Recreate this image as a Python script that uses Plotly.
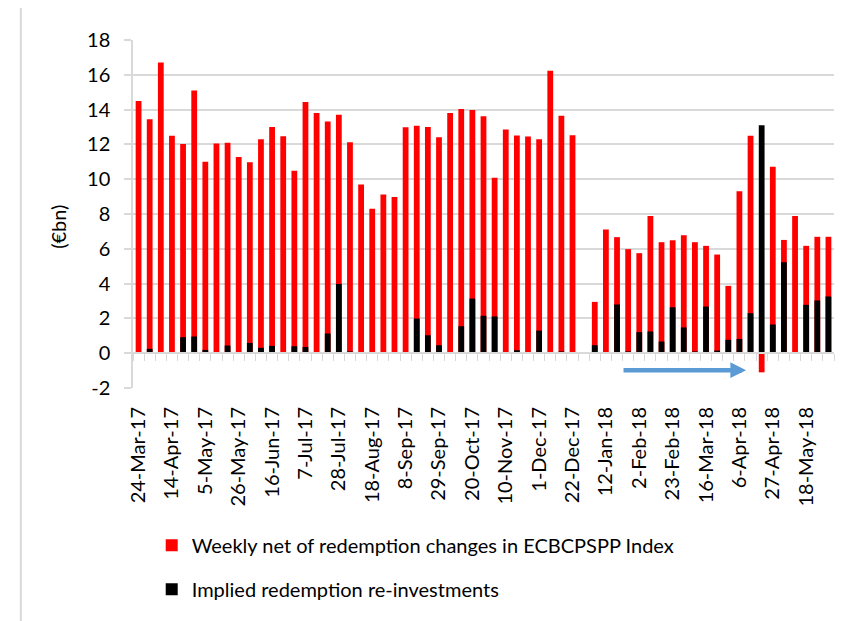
import plotly.graph_objects as go
import pandas as pd

# weekly dates (categories)
dates = pd.date_range("2017-03-24", periods=63, freq="7D")
categories = [d.strftime("%-d-%b-%y") for d in dates]

# Weekly net of redemption changes in ECBCPSPP Index (EUR bn)
weekly_net = [14.5, 13.45, 16.7, 12.49, 12.03, 15.1, 11.0, 12.05, 12.09, 11.28,
              10.98, 12.3, 13.0, 12.47, 10.48, 14.44, 13.81, 13.31, 13.7, 12.13,
              9.69, 8.3, 9.12, 8.98, 12.99, 13.07, 13.0, 12.41, 13.81, 14.04,
              13.97, 13.62, 10.08, 12.85, 12.51, 12.45, 12.3, 16.23, 13.64, 12.53,
              0.0, 2.95, 7.11, 6.67, 5.98, 5.75, 7.89, 6.38, 6.49, 6.78,
              6.38, 6.17, 5.67, 3.87, 9.31, 12.49, -1.1, 10.71, 6.51, 7.89,
              6.17, 6.69, 6.69]

# Implied redemption re-investments (EUR bn)
reinvest = [0, 0.25, 0, 0, 0.92, 0.96, 0.19, 0, 0.44, 0,
            0.59, 0.31, 0.42, 0, 0.40, 0.36, 0, 1.13, 3.98, 0.1,
            0, 0, 0, 0, 0, 1.99, 1.03, 0.46, 0, 1.55,
            3.14, 2.15, 2.11, 0, 0.17, 0, 1.30, 0, 0.1, 0,
            0, 0.46, 0, 2.80, 0.1, 1.21, 1.25, 0.67, 2.64, 1.48,
            0.1, 2.68, 0.15, 0.77, 0.82, 2.30, 13.1, 1.65, 5.23, 0,
            2.78, 3.03, 3.26]

tick_labels = ["24-Mar-17", "14-Apr-17", "5-May-17", "26-May-17", "16-Jun-17",
               "7-Jul-17", "28-Jul-17", "18-Aug-17", "8-Sep-17", "29-Sep-17",
               "20-Oct-17", "10-Nov-17", "1-Dec-17", "22-Dec-17", "12-Jan-18",
               "2-Feb-18", "23-Feb-18", "16-Mar-18", "6-Apr-18", "27-Apr-18",
               "18-May-18"]
tick_idx = [categories.index(t) for t in tick_labels]

y_ticks = list(range(-2, 19, 2))
y_tick_text = [str(v) for v in y_ticks]

x_pos = list(range(len(categories)))
FONT = "Lato, 'Open Sans', sans-serif"
FS = 20
GRID = "#d9d9d9"

fig = go.Figure()
fig.add_trace(go.Bar(x=x_pos, y=weekly_net, name="Weekly net of redemption changes in ECBCPSPP Index",
                     marker=dict(color="#ff0000", line=dict(width=0)), width=0.52,
                     legendgroup="a", hovertext=categories))
fig.add_trace(go.Bar(x=x_pos, y=reinvest, name="Implied redemption re-investments",
                     marker=dict(color="#000000", line=dict(width=0)), width=0.52,
                     legendgroup="b", hovertext=categories))

# invisible trace to host the zero-line axis with category-boundary ticks
fig.add_trace(go.Scatter(x=[-0.5, len(categories) - 0.5], y=[0, 0], xaxis="x2",
                         mode="lines", line=dict(width=0), showlegend=False, hoverinfo="skip"))

fig.update_layout(
    width=859, height=613,
    barmode="overlay",
    paper_bgcolor="white", plot_bgcolor="white",
    margin=dict(l=125, r=33, t=32, b=233, autoexpand=False),
    font=dict(family=FONT, size=FS, color="#000000"),
    xaxis=dict(range=[-0.5, len(categories) - 0.5], tickmode="array",
               tickvals=tick_idx, ticktext=tick_labels, tickangle=-90,
               showgrid=False, showline=False, zeroline=False, ticks="",
               ticklabelstandoff=14, tickfont=dict(size=FS), automargin=False),
    xaxis2=dict(overlaying="x", matches="x", anchor="free", position=0.1,
                showline=True, linecolor=GRID, linewidth=1.5, ticks="outside",
                ticklen=7, tickwidth=1.2, tickcolor=GRID, tickmode="array",
                tickvals=[i - 0.5 for i in range(len(categories) + 1)],
                showticklabels=False, showgrid=False, zeroline=False, automargin=False),
    yaxis=dict(range=[-2, 18], tickmode="array", tickvals=y_ticks, ticktext=y_tick_text,
               showgrid=True, gridcolor=GRID, gridwidth=1.5,
               showline=True, linecolor=GRID, linewidth=1.5,
               ticks="outside", ticklen=7, tickcolor=GRID, tickwidth=1.5,
               zeroline=False, ticklabelstandoff=10, tickfont=dict(size=FS),
               automargin=False),
    showlegend=True,
    legend=dict(orientation="v", x=0.0267, xanchor="left", y=-0.396, yanchor="top",
                font=dict(size=FS), tracegroupgap=15, itemwidth=30,
                bgcolor="rgba(0,0,0,0)"),
    annotations=[
        dict(text="(€bn)", xref="paper", yref="paper", x=-0.107, y=0.463,
             textangle=-90, showarrow=False, font=dict(size=FS),
             xanchor="center", yanchor="middle"),
        dict(text="", x=54.6, y=-0.975, ax=43.45, ay=-0.975, xref="x", yref="y",
             axref="x", ayref="y", showarrow=True, arrowhead=2, arrowsize=0.7,
             arrowwidth=4.5, arrowcolor="#5b9bd5", standoff=0),
    ],
    shapes=[
        dict(type="rect", xref="paper", yref="paper", x0=-0.16, y0=-1.0,
             x1=1.2, y1=1.1, line=dict(color=GRID, width=2), layer="below"),
    ],
)

fig.write_html("out.html")
